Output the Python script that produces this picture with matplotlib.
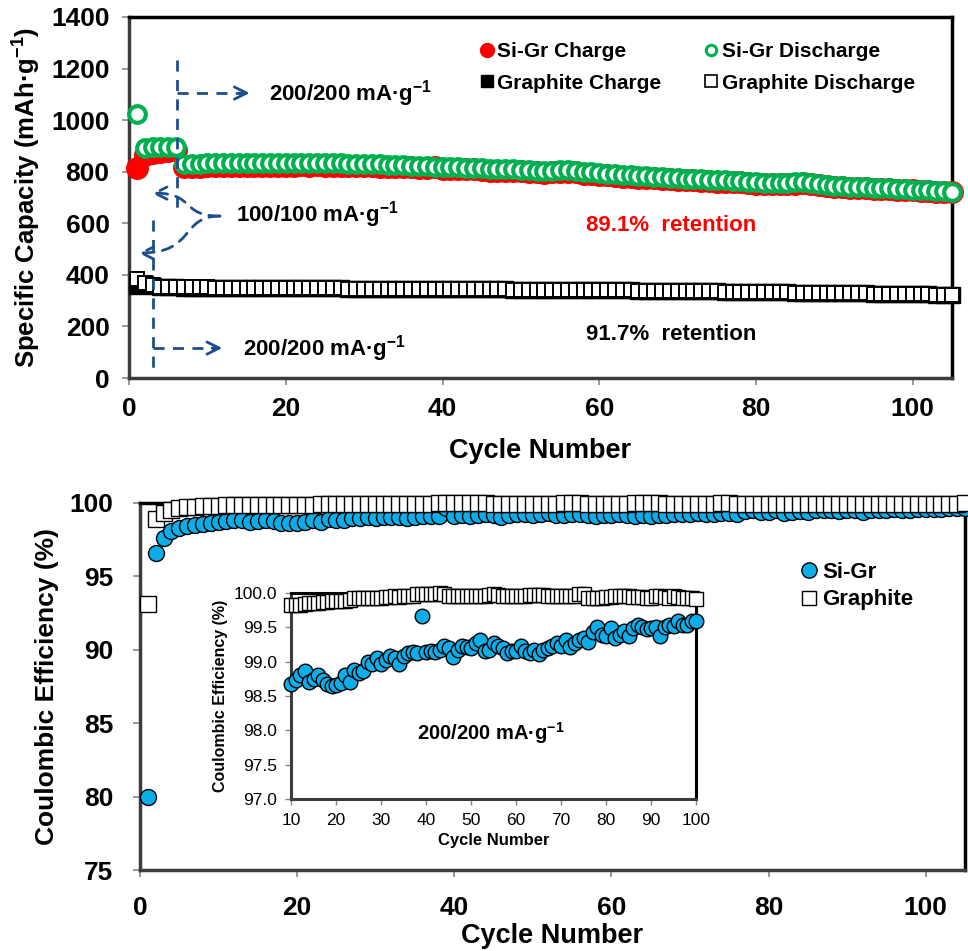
import numpy as np
import matplotlib
matplotlib.use('Agg')
import matplotlib.pyplot as plt
from matplotlib.path import Path
from matplotlib.patches import FancyArrowPatch
from matplotlib.lines import Line2D
from matplotlib.ticker import FormatStrFormatter

plt.rcParams['font.family'] = ['Liberation Sans', 'DejaVu Sans']
plt.rcParams['font.weight'] = 'bold'
plt.rcParams['axes.labelweight'] = 'bold'
plt.rcParams['mathtext.fontset'] = 'custom'
plt.rcParams['mathtext.rm'] = 'Liberation Sans:bold'
plt.rcParams['mathtext.default'] = 'rm'

# cycle number 1..105
cycles = np.arange(1, 106)

# Si-Gr capacity (mAh/g)
sigr_discharge = [1025, 893, 895, 896, 896, 897, 830, 831, 831, 832,
                  832, 833, 833, 834, 834, 834, 835, 835, 835, 835,
                  835, 835, 834, 834, 834, 833, 832, 831, 831, 830,
                  829, 828, 827, 826, 825, 824, 823, 822, 820, 819,
                  818, 817, 816, 815, 813, 812, 811, 810, 809, 807,
                  806, 804, 803, 804, 806, 806, 803, 800, 797, 795,
                  793, 790, 788, 786, 783, 782, 780, 778, 777, 775,
                  773, 772, 770, 769, 767, 766, 765, 763, 761, 759,
                  758, 757, 757, 758, 759, 760, 755, 751, 747, 744,
                  743, 742, 740, 739, 737, 736, 735, 733, 732, 731,
                  729, 728, 726, 725, 723]
sigr_charge = [815, 863, 874, 878, 881, 883, 818, 819, 820, 821,
               822, 823, 824, 823, 824, 824, 824, 824, 824, 824,
               824, 825, 823, 825, 824, 824, 824, 823, 823, 821,
               821, 820, 819, 817, 817, 817, 816, 815, 817, 812,
               811, 810, 809, 809, 807, 804, 804, 804, 803, 801,
               800, 798, 796, 797, 800, 800, 797, 793, 790, 788,
               787, 783, 781, 779, 776, 776, 774, 772, 771, 769,
               768, 766, 764, 764, 762, 761, 761, 759, 756, 754,
               754, 752, 752, 754, 754, 756, 752, 747, 743, 740,
               739, 737, 736, 736, 733, 733, 732, 730, 729, 728,
               726, 725, 723, 722, 720]

# Graphite capacity (mAh/g)
gr_discharge = [384, 370, 361, 353, 352, 352, 351, 351, 351, 351,
                350, 350, 350, 350, 350, 350, 349, 349, 349, 349,
                349, 349, 348, 348, 348, 348, 348, 347, 347, 347,
                347, 347, 347, 346, 346, 346, 346, 346, 346, 346,
                345, 345, 345, 345, 344, 344, 344, 344, 343, 343,
                343, 343, 342, 342, 342, 342, 342, 341, 341, 341,
                341, 340, 340, 340, 339, 339, 339, 338, 338, 338,
                337, 337, 337, 336, 336, 335, 335, 334, 334, 333,
                333, 333, 332, 332, 331, 331, 331, 330, 330, 329,
                329, 328, 328, 328, 327, 327, 326, 326, 326, 325,
                324, 324, 323, 323, 322]
gr_charge = [357, 366, 358, 351, 351, 351, 350, 350, 350, 350,
             349, 349, 349, 349, 349, 349, 348, 348, 348, 348,
             348, 348, 348, 348, 348, 348, 348, 347, 347, 347,
             347, 347, 347, 346, 346, 346, 346, 346, 346, 346,
             345, 345, 345, 345, 344, 344, 344, 344, 343, 343,
             343, 343, 342, 342, 342, 342, 342, 341, 341, 341,
             341, 340, 340, 340, 339, 339, 339, 338, 338, 338,
             337, 337, 337, 336, 336, 335, 335, 334, 334, 333,
             333, 333, 332, 332, 331, 331, 331, 330, 330, 329,
             329, 328, 328, 328, 327, 327, 326, 326, 326, 325,
             324, 324, 323, 323, 322]

# coulombic efficiency (%)
sigr_ce = [80.0, 96.6, 97.6, 98.1, 98.3, 98.4, 98.5, 98.6, 98.65, 98.68,
           98.74, 98.81, 98.86, 98.71, 98.75, 98.81, 98.74, 98.67, 98.65, 98.66,
           98.69, 98.81, 98.70, 98.88, 98.83, 98.86, 98.99, 98.97, 99.05, 98.97,
           99.02, 99.08, 99.05, 98.96, 99.08, 99.13, 99.14, 99.12, 99.67, 99.14,
           99.15, 99.14, 99.17, 99.23, 99.20, 99.07, 99.17, 99.23, 99.22, 99.20,
           99.27, 99.31, 99.16, 99.17, 99.27, 99.23, 99.20, 99.13, 99.15, 99.15,
           99.23, 99.15, 99.13, 99.17, 99.11, 99.17, 99.20, 99.23, 99.27, 99.23,
           99.32, 99.22, 99.27, 99.32, 99.34, 99.28, 99.43, 99.50, 99.39, 99.37,
           99.49, 99.34, 99.39, 99.44, 99.37, 99.49, 99.54, 99.51, 99.47, 99.49,
           99.50, 99.37, 99.50, 99.54, 99.52, 99.59, 99.54, 99.54, 99.59, 99.59,
           99.60, 99.62, 99.63, 99.65, 99.66]
gr_ce = [93.1, 98.9, 99.3, 99.55, 99.65, 99.72, 99.76, 99.78, 99.80, 99.82,
         99.83, 99.83, 99.84, 99.85, 99.85, 99.86, 99.87, 99.87, 99.88, 99.88,
         99.89, 99.89, 99.90, 99.92, 99.93, 99.93, 99.92, 99.93, 99.93, 99.93,
         99.94, 99.94, 99.95, 99.94, 99.95, 99.95, 99.96, 99.98, 99.99, 99.99,
         99.98, 99.99, 100.0, 99.99, 99.95, 99.95, 99.95, 99.95, 99.95, 99.95,
         99.96, 99.95, 99.96, 99.97, 99.98, 99.97, 99.96, 99.95, 99.95, 99.95,
         99.96, 99.96, 99.97, 99.97, 99.97, 99.97, 99.96, 99.95, 99.95, 99.95,
         99.95, 99.95, 99.96, 99.98, 99.98, 99.93, 99.93, 99.93, 99.93, 99.94,
         99.94, 99.95, 99.95, 99.95, 99.95, 99.94, 99.94, 99.94, 99.93, 99.93,
         99.95, 99.95, 99.94, 99.93, 99.95, 99.94, 99.93, 99.92, 99.92, 99.91,
         99.93, 99.94, 99.95, 99.96, 99.97]

legend_top = ['Si-Gr Charge', 'Si-Gr Discharge', 'Graphite Charge', 'Graphite Discharge']
legend_bottom = ['Si-Gr', 'Graphite']

RED = '#FF0000'
GREEN = '#00B050'
CYAN = '#0BAEE8'
NAVY = '#1F4E8C'
DASH = (0, (4, 3))


def style_axes(ax, lw=2.5):
    for side in ['left', 'bottom']:
        ax.spines[side].set_linewidth(lw)
        ax.spines[side].set_color('#3c3c3c')
    for side in ['top', 'right']:
        ax.spines[side].set_linewidth(lw)
        ax.spines[side].set_color('black')


fig = plt.figure(figsize=(9.68, 9.51), dpi=100)

# ---------- capacity vs cycle ----------
ax1 = fig.add_axes([129/968, 1 - 378/951, 823/968, 361/951])
ax1.plot(cycles, sigr_charge, 'o', color=RED, ms=15.5, clip_on=False, zorder=3)
ax1.plot(cycles, sigr_discharge, 'o', mfc='white', mec=GREEN, ms=12, mew=3,
         clip_on=False, zorder=3)
ax1.plot(cycles, gr_charge, 's', color='black', ms=11, clip_on=False, zorder=3)
ax1.plot(cycles, gr_discharge, 's', mfc='white', mec='black', ms=10.5, mew=1.4,
         clip_on=False, zorder=3)
ax1.set_xlim(0, 105)
ax1.set_ylim(0, 1400)
ax1.set_xticks(range(0, 101, 20))
ax1.set_yticks(range(0, 1401, 200))
ax1.tick_params(direction='out', length=5, width=1.2, color='#888888',
                labelsize=19, pad=9)
ax1.set_xlabel('Cycle Number', fontsize=19.5, labelpad=12)
ax1.set_ylabel('Specific Capacity (mAh·g$^{-1}$)', fontsize=18.5, labelpad=6)
style_axes(ax1)

# current-rate annotations
ax1.plot([6.1, 6.1], [1235, 640], ls=DASH, lw=2, color=NAVY, zorder=4)
ax1.plot([6.1, 14.5], [1105, 1105], ls=DASH, lw=2, color=NAVY)
ax1.annotate('', xy=(15.4, 1105), xytext=(14.0, 1105),
             arrowprops=dict(arrowstyle='->', color=NAVY, lw=2,
                             mutation_scale=22, shrinkA=0, shrinkB=0))
ax1.text(17.8, 1105, '200/200 mA·g$^{-1}$', fontsize=16, va='center', ha='left')

ax1.plot([3.1, 3.1], [613, 31], ls=DASH, lw=2, color=NAVY, zorder=4)
ax1.plot([3.1, 11.0], [116, 116], ls=DASH, lw=2, color=NAVY)
ax1.annotate('', xy=(11.9, 116), xytext=(10.6, 116),
             arrowprops=dict(arrowstyle='->', color=NAVY, lw=2,
                             mutation_scale=22, shrinkA=0, shrinkB=0))
ax1.text(14.6, 116, '200/200 mA·g$^{-1}$', fontsize=16, va='center', ha='left')

ax1.text(13.6, 632, '100/100 mA·g$^{-1}$', fontsize=16, va='center', ha='left')
for y_end, x_end in [(717, 2.9), (485, 1.2)]:
    brace = Path([(11.6, 628), (6.5, 628), (8.5, y_end), (x_end, y_end)],
                 [Path.MOVETO, Path.CURVE4, Path.CURVE4, Path.CURVE4])
    ax1.add_patch(FancyArrowPatch(path=brace, arrowstyle='->', color=NAVY,
                                  lw=2, ls=DASH, mutation_scale=22, zorder=4))

ax1.text(58.3, 593, '89.1%  retention', color=RED, fontsize=16, va='center')
ax1.text(58.3, 167, '91.7%  retention', color='black', fontsize=16, va='center')

h_top = [Line2D([], [], ls='', marker='o', color=RED, ms=10),
         Line2D([], [], ls='', marker='o', mfc='white', mec=GREEN, mew=2.2, ms=7.5),
         Line2D([], [], ls='', marker='s', color='black', ms=8.5),
         Line2D([], [], ls='', marker='s', mfc='white', mec='black', mew=1.2, ms=8.5)]
ax1.legend([h_top[0], h_top[2], h_top[1], h_top[3]],
           [legend_top[0], legend_top[2], legend_top[1], legend_top[3]],
           ncol=2, loc='upper left', bbox_to_anchor=(0.427, 0.93), frameon=False,
           fontsize=15, borderpad=0, borderaxespad=0, handlelength=0.6,
           handletextpad=0.2, columnspacing=2.1, labelspacing=0.6)

# ---------- coulombic efficiency ----------
ax2 = fig.add_axes([140/968, 1 - 870/951, 825/968, 367/951])
ax2.plot(cycles, sigr_ce, 'o', mfc=CYAN, mec='black', mew=1, ms=11.5,
         clip_on=False, zorder=3)
ax2.plot(cycles, gr_ce, 's', mfc='white', mec='black', mew=1, ms=11.5,
         clip_on=False, zorder=4)
ax2.set_xlim(0, 105)
ax2.set_ylim(75, 100)
ax2.set_xticks(range(0, 101, 20))
ax2.set_yticks(range(75, 101, 5))
ax2.tick_params(direction='out', length=5, width=1.2, color='#888888',
                labelsize=19, pad=14)
ax2.set_xlabel('Cycle Number', fontsize=19.5, labelpad=2)
ax2.set_ylabel('Coulombic Efficiency (%)', fontsize=19, labelpad=8)
style_axes(ax2)

h_bot = [Line2D([], [], ls='', marker='o', mfc=CYAN, mec='black', mew=1, ms=11),
         Line2D([], [], ls='', marker='s', mfc='white', mec='black', mew=1, ms=10)]
ax2.legend(h_bot, legend_bottom, loc='upper left', bbox_to_anchor=(0.803, 0.84),
           frameon=False, fontsize=16, borderpad=0, borderaxespad=0,
           handlelength=0.6, handletextpad=0.3, labelspacing=0.3)

# inset: cycles 10-100
axin = fig.add_axes([291/968, 1 - 799/951, 405/968, 206/951])
axin.plot(cycles[9:100], sigr_ce[9:100], 'o', mfc=CYAN, mec='black', mew=1,
          ms=10.5, clip_on=False, zorder=3)
axin.plot(cycles[9:100], gr_ce[9:100], 's', mfc='white', mec='black', mew=1,
          ms=10.5, clip_on=False, zorder=4)
axin.set_xlim(10, 100)
axin.set_ylim(97, 100)
axin.set_xticks(range(10, 101, 10))
axin.set_yticks(np.arange(97, 100.01, 0.5))
axin.yaxis.set_major_formatter(FormatStrFormatter('%.1f'))
axin.tick_params(direction='out', length=4, width=1, color='#888888',
                 labelsize=12.5, pad=6)
for lbl in axin.get_xticklabels() + axin.get_yticklabels():
    lbl.set_fontweight('normal')
axin.set_xlabel('Cycle Number', fontsize=12, labelpad=4)
axin.set_ylabel('Coulombic Efficiency (%)', fontsize=11.5, labelpad=4)
axin.text(38, 97.96, '200/200 mA·g$^{-1}$', fontsize=14.5, va='center', ha='left')
style_axes(axin, lw=2.2)

fig.savefig('out.png', dpi=100)
